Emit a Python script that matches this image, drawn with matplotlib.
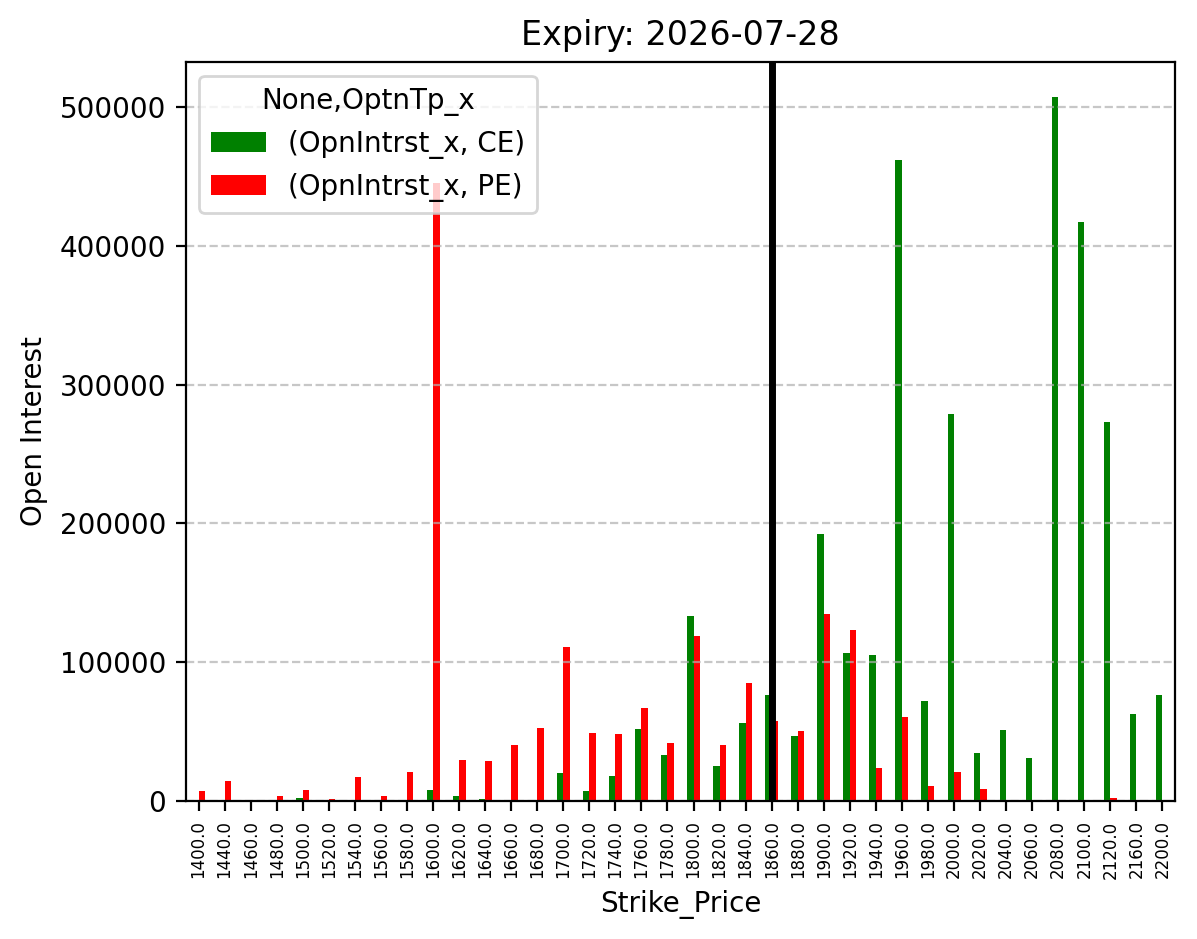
import pandas as pd
import matplotlib
matplotlib.use("Agg")
import matplotlib.pyplot as plt

# strike prices and open interest
strikes = [1400.0, 1440.0, 1460.0, 1480.0, 1500.0, 1520.0, 1540.0, 1560.0, 1580.0, 1600.0,
           1620.0, 1640.0, 1660.0, 1680.0, 1700.0, 1720.0, 1740.0, 1760.0, 1780.0, 1800.0,
           1820.0, 1840.0, 1860.0, 1880.0, 1900.0, 1920.0, 1940.0, 1960.0, 1980.0, 2000.0,
           2020.0, 2040.0, 2060.0, 2080.0, 2100.0, 2120.0, 2160.0, 2200.0]

ce_oi = [0, 0, 0, 0, 2200, 0, 0, 700, 0, 8000,
         3600, 1500, 0, 700, 20200, 7200, 18000, 52000, 33200, 133000,
         25300, 56300, 76500, 47000, 192000, 106800, 105400, 462000, 72200, 279000,
         34600, 51200, 31000, 507000, 417000, 273000, 62800, 76500]

pe_oi = [7500, 14500, 0, 3600, 8000, 1500, 17500, 3600, 21000, 445000,
         29800, 29000, 40500, 52700, 111000, 49000, 48400, 67000, 41900, 119000,
         40400, 85200, 57800, 50500, 135000, 123400, 23800, 60600, 10800, 21000,
         8700, 0, 0, 0, 500, 2200, 0, 500]

expiry = "2026-07-28"
spot_strike = 1860.0

cols = pd.MultiIndex.from_tuples([("OpnIntrst_x", "CE"), ("OpnIntrst_x", "PE")],
                                 names=[None, "OptnTp_x"])
df = pd.DataFrame(list(zip(ce_oi, pe_oi)), index=pd.Index(strikes, name="Strike_Price"),
                  columns=cols)

fig, ax = plt.subplots(figsize=(5.985, 4.695), dpi=200)
df.plot(kind="bar", color=["green", "red"], ax=ax)

# current price marker
ax.axvline(strikes.index(spot_strike), color="black", linewidth=2.5)

ax.set_title(f"Expiry: {expiry}")
ax.set_ylabel("Open Interest")
ax.set_xlabel("Strike_Price")
ax.tick_params(axis="x", labelsize=6, labelrotation=90)
ax.grid(axis="y", linestyle="--", alpha=0.7)
ax.legend(loc="upper left", title="None,OptnTp_x")

plt.subplots_adjust(left=0.155, right=0.982, top=0.934, bottom=0.147)
plt.savefig("out.png", dpi=200)
